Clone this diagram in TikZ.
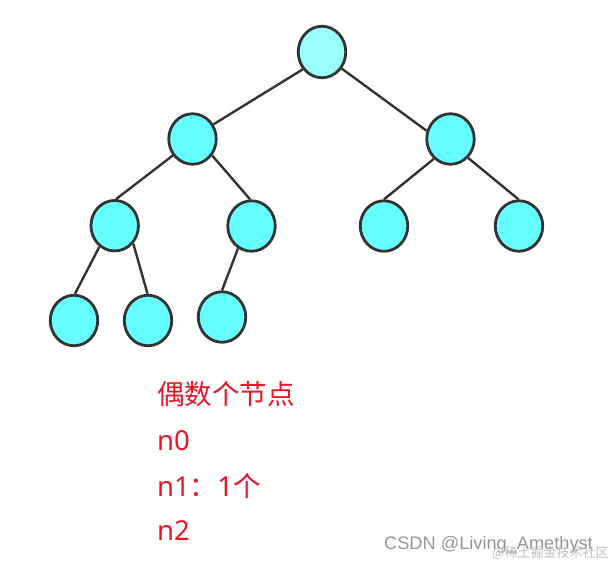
\documentclass[tikz,border=0pt]{standalone}
\usepackage{fontspec}
\setmainfont{Noto Sans}
\newfontfamily\cjk{Noto Sans CJK SC}
\newfontfamily\wmfont{Liberation Sans}
\usetikzlibrary{shapes.geometric}
\definecolor{rootfill}{RGB}{153,255,255}
\definecolor{nodefill}{RGB}{102,255,255}
\definecolor{edgecol}{RGB}{51,51,51}
\definecolor{txtred}{RGB}{232,20,40}
\definecolor{wmgray}{RGB}{150,150,150}
\definecolor{wmlight}{RGB}{190,190,190}
\tikzset{
  treenode/.style={ellipse, draw=edgecol, line width=2.8pt, fill=nodefill,
    minimum width=47.5pt, minimum height=50.5pt, inner sep=0pt},
  rootnode/.style={treenode, fill=rootfill, minimum height=51.5pt},
  edge/.style={draw=edgecol, line width=2.4pt},
  redtext/.style={anchor=base west, inner sep=0pt, text=txtred, font=\fontsize{27.5pt}{30pt}\selectfont}
}
\begin{document}
\begin{tikzpicture}[x=1pt, y=-1pt]
\useasboundingbox (0,0) rectangle (611,562);
\node[rootnode] (r) at (322,52) {};
\node[treenode] (a) at (192.5,139) {};
\node[treenode] (b) at (450.5,139) {};
\node[treenode] (c) at (114.7,225.7) {};
\node[treenode] (d) at (251.5,226) {};
\node[treenode] (e) at (384,226) {};
\node[treenode] (f) at (519,226) {};
\node[treenode] (g) at (74,320.5) {};
\node[treenode] (h) at (148,320.5) {};
\node[treenode] (i) at (222,317) {};
\draw[edge] (r.222) -- (a.35);
\draw[edge] (r.320) -- (b.161);
\draw[edge] (a.220) -- (c.87);
\draw[edge] (a.320) -- (d.93);
\draw[edge] (c.234) -- (g.88);
\draw[edge] (c.316) -- (h.91);
\draw[edge] (d.239) -- (i.90);
\draw[edge] (b.230) -- (e.90);
\draw[edge] (b.313) -- (f.91);
\node[redtext] (t1) at (157,404) {\cjk 偶数个节点};
\node[redtext] (t2) at (157,450) {n0};
\node[redtext] (t3) at (157,496) {n1{\cjk ：}1{\cjk 个}};
\node[redtext] (t4) at (157,540) {n2};
\node[anchor=base west, inner sep=0pt, text=wmgray, font=\wmfont\fontsize{18.2pt}{20pt}\selectfont] (w1) at (384,549) {CSDN @Living\_Amethyst};
\node[anchor=base west, inner sep=0pt, text=wmlight, font=\cjk\fontsize{13pt}{15pt}\selectfont] (w2) at (492,557) {@稀土掘金技术社区};
\end{tikzpicture}
\end{document}
